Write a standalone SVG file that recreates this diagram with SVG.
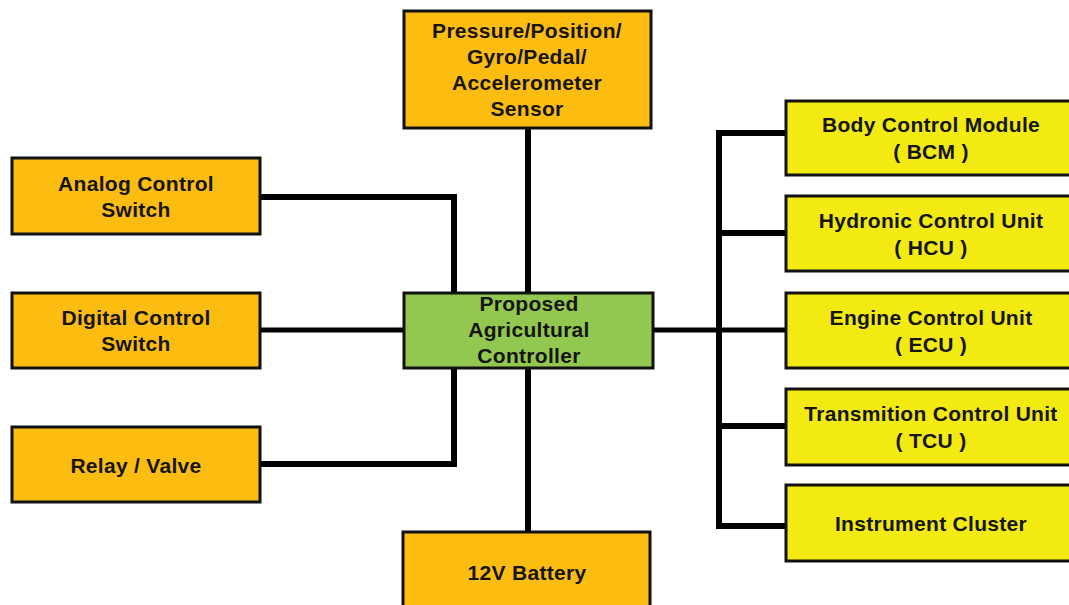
<svg xmlns="http://www.w3.org/2000/svg" width="1069" height="605" viewBox="0 0 1069 605">
<style>
.box{stroke:#111;stroke-width:3}
.org{fill:#FDBD10}
.grn{fill:#92C850}
.yel{fill:#F3EA12}
.t{font-family:"Liberation Sans",Arial,sans-serif;font-weight:bold;font-size:21px;letter-spacing:0.3px;fill:#151515;text-anchor:middle}
.c{fill:none;stroke:#000;stroke-width:6;stroke-linejoin:miter}
</style>
<rect width="1069" height="605" fill="#fff"/>
<g id="connectors">
<polyline class="c" points="261,197 454,197 454,293"/>
<polyline class="c" style="stroke-width:5" points="261,330 404,330"/>
<polyline class="c" points="261,464 454,464 454,368"/>
<line class="c" x1="528" y1="128" x2="528" y2="293"/>
<line class="c" x1="528" y1="368" x2="528" y2="532"/>
<line class="c" style="stroke-width:5" x1="653" y1="330" x2="786" y2="330"/>
<line class="c" x1="719" y1="130" x2="719" y2="529"/>
<polyline class="c" points="716,133 786,133"/>
<polyline class="c" points="716,233 786,233"/>
<polyline class="c" points="716,426 786,426"/>
<polyline class="c" points="716,526 786,526"/>
</g>
<g id="sensor"><rect class="box org" x="404" y="11" width="247" height="117"/>
<text class="t" x="527" y="38">Pressure/Position/</text>
<text class="t" x="527" y="64">Gyro/Pedal/</text>
<text class="t" x="527" y="90">Accelerometer</text>
<text class="t" x="527" y="116">Sensor</text></g>
<g id="analog"><rect class="box org" x="12" y="158" width="248" height="76"/>
<text class="t" x="136" y="191">Analog Control</text>
<text class="t" x="136" y="217">Switch</text></g>
<g id="digital"><rect class="box org" x="12" y="293" width="248" height="75"/>
<text class="t" x="136" y="325">Digital Control</text>
<text class="t" x="136" y="351">Switch</text></g>
<g id="relay"><rect class="box org" x="12" y="427" width="248" height="75"/>
<text class="t" x="136" y="473">Relay / Valve</text></g>
<g id="controller"><rect class="box grn" x="404" y="293" width="249" height="75"/>
<text class="t" x="529" y="311">Proposed</text>
<text class="t" x="529" y="337">Agricultural</text>
<text class="t" x="529" y="363">Controller</text></g>
<g id="battery"><rect class="box org" x="403" y="532" width="247" height="80"/>
<text class="t" x="527" y="580">12V Battery</text></g>
<g id="bcm"><rect class="box yel" x="786" y="101" width="290" height="74"/>
<text class="t" x="931" y="132">Body Control Module</text>
<text class="t" x="931" y="159">( BCM )</text></g>
<g id="hcu"><rect class="box yel" x="786" y="196" width="290" height="75"/>
<text class="t" x="931" y="228">Hydronic Control Unit</text>
<text class="t" x="931" y="255">( HCU )</text></g>
<g id="ecu"><rect class="box yel" x="786" y="293" width="290" height="75"/>
<text class="t" x="931" y="325">Engine Control Unit</text>
<text class="t" x="931" y="352">( ECU )</text></g>
<g id="tcu"><rect class="box yel" x="786" y="389" width="290" height="76"/>
<text class="t" x="931" y="421">Transmition Control Unit</text>
<text class="t" x="931" y="448">( TCU )</text></g>
<g id="cluster"><rect class="box yel" x="786" y="485" width="290" height="76"/>
<text class="t" x="931" y="531">Instrument Cluster</text></g>
</svg>
